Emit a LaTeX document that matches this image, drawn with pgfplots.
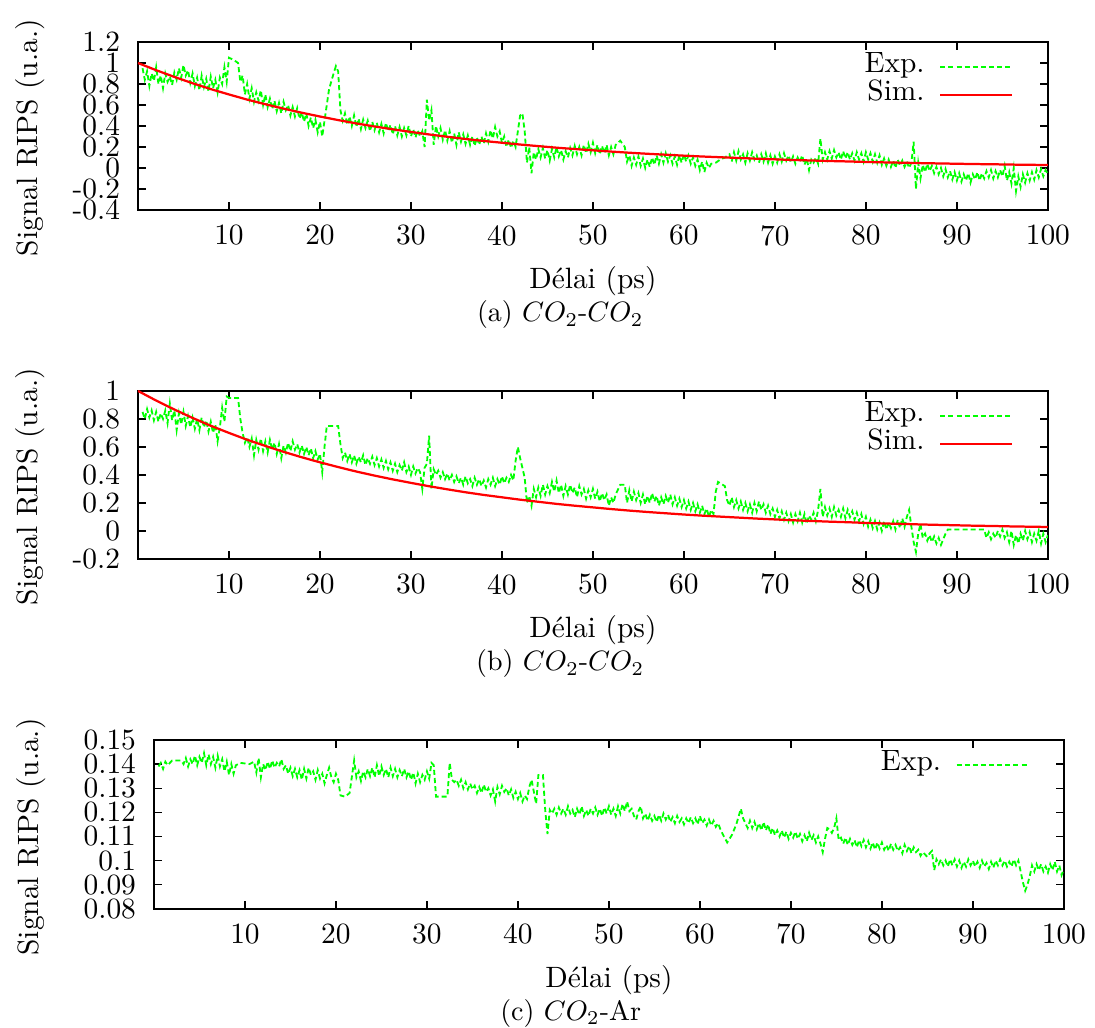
\documentclass[border=0pt]{standalone}
\usepackage{fontspec}
\usepackage{pgfplots}
\pgfplotsset{compat=1.18}
\definecolor{gexp}{RGB}{0,255,0}
\definecolor{rsim}{RGB}{255,0,0}

\pgfplotstableread{
x y
0.50 0.95
0.75 0.84
1.00 0.92
1.25 0.78
1.50 0.90
1.75 0.83
2.00 0.96
2.25 0.80
2.50 0.88
2.75 0.76
3.00 0.90
3.25 0.82
3.50 0.87
3.75 0.79
4.00 0.91
4.25 0.84
4.50 0.95
4.75 0.86
5.00 0.98
5.25 0.88
5.50 0.93
5.75 0.81
6.00 0.90
6.25 0.78
6.50 0.86
6.75 0.74
7.00 0.88
7.25 0.77
7.50 0.85
7.75 0.73
8.00 0.87
8.25 0.76
8.50 0.84
8.75 0.72
9.00 0.86
9.25 0.80
9.50 0.96
9.75 0.82
10.00 1.05
10.50 1.03
11.00 1.00
11.25 0.82
11.50 0.88
11.75 0.70
12.00 0.80
12.25 0.66
12.50 0.76
12.75 0.63
13.00 0.72
13.25 0.64
13.50 0.74
13.75 0.60
14.00 0.70
14.25 0.58
14.50 0.66
14.75 0.56
15.00 0.64
15.25 0.54
15.50 0.62
15.75 0.52
16.00 0.63
16.25 0.55
16.50 0.60
16.75 0.50
17.00 0.58
17.25 0.49
17.50 0.57
17.75 0.47
18.00 0.53
18.25 0.44
18.50 0.52
18.75 0.40
19.00 0.48
19.25 0.38
19.50 0.46
19.75 0.34
20.00 0.44
20.25 0.30
20.50 0.45
21.00 0.75
21.50 0.90
21.75 0.97
22.00 0.92
22.25 0.55
22.50 0.45
22.75 0.52
23.00 0.41
23.25 0.49
23.50 0.40
23.75 0.50
24.00 0.39
24.25 0.47
24.50 0.37
24.75 0.46
25.00 0.38
25.25 0.45
25.50 0.35
25.75 0.44
26.00 0.36
26.25 0.43
26.50 0.34
26.75 0.42
27.00 0.33
27.25 0.43
27.50 0.35
27.75 0.41
28.00 0.32
28.25 0.40
28.50 0.31
28.75 0.39
29.00 0.30
29.25 0.38
29.50 0.31
29.75 0.40
30.00 0.30
30.25 0.37
30.50 0.29
30.75 0.36
31.00 0.30
31.25 0.35
31.50 0.20
31.75 0.65
32.00 0.45
32.25 0.55
32.50 0.22
32.75 0.40
33.00 0.30
33.25 0.38
33.50 0.27
33.75 0.36
34.00 0.26
34.25 0.35
34.50 0.24
34.75 0.33
35.00 0.22
35.25 0.34
35.50 0.25
35.75 0.32
36.00 0.23
36.25 0.31
36.50 0.22
36.75 0.30
37.00 0.21
37.25 0.29
37.50 0.22
37.75 0.30
38.00 0.23
38.25 0.33
38.50 0.25
38.75 0.36
39.00 0.28
39.25 0.39
39.50 0.30
39.75 0.35
40.00 0.24
40.25 0.30
40.50 0.20
40.75 0.27
41.00 0.19
41.25 0.26
41.50 0.20
41.75 0.35
42.00 0.50
42.25 0.52
42.50 0.35
42.75 0.05
43.00 0.20
43.25 -0.05
43.50 0.15
43.75 0.08
44.00 0.18
44.25 0.10
44.50 0.19
44.75 0.09
45.00 0.17
45.25 0.07
45.50 0.18
45.75 0.10
46.00 0.20
46.25 0.11
46.50 0.17
46.75 0.08
47.00 0.16
47.25 0.10
47.50 0.19
47.75 0.12
48.00 0.21
48.25 0.13
48.50 0.20
48.75 0.12
49.00 0.22
49.25 0.14
49.50 0.23
49.75 0.15
50.00 0.24
50.25 0.14
50.50 0.22
50.75 0.13
51.00 0.21
51.25 0.14
51.50 0.22
51.75 0.12
52.00 0.20
52.25 0.13
52.50 0.22
53.00 0.26
53.50 0.20
53.75 0.06
54.00 0.12
54.25 0.02
54.50 0.10
54.75 0.03
55.00 0.11
55.25 0.02
55.50 0.09
55.75 0.00
56.00 0.08
56.25 0.01
56.50 0.10
56.75 0.03
57.00 0.12
57.25 0.04
57.50 0.13
57.75 0.05
58.00 0.14
58.25 0.06
58.50 0.12
58.75 0.04
59.00 0.11
59.25 0.03
59.50 0.12
59.75 0.05
60.00 0.13
60.25 0.06
60.50 0.12
60.75 0.04
61.00 0.10
61.25 0.02
61.50 0.08
61.75 -0.02
62.00 0.06
62.25 -0.04
62.50 0.05
62.75 0.00
63.00 0.04
63.50 0.05
64.00 0.08
64.50 0.10
65.00 0.13
65.25 0.06
65.50 0.15
65.75 0.07
66.00 0.16
66.25 0.08
66.50 0.13
66.75 0.05
67.00 0.14
67.25 0.07
67.50 0.15
67.75 0.08
68.00 0.12
68.25 0.05
68.50 0.13
68.75 0.06
69.00 0.14
69.25 0.05
69.50 0.12
69.75 0.04
70.00 0.11
70.25 0.05
70.50 0.13
70.75 0.06
71.00 0.14
71.25 0.07
71.50 0.12
71.75 0.05
72.00 0.11
72.25 0.04
72.50 0.10
72.75 0.06
73.00 0.12
73.25 0.03
73.50 0.09
73.75 -0.02
74.00 0.08
74.25 0.05
74.50 0.10
74.75 0.04
75.00 0.28
75.25 0.08
75.50 0.15
75.75 0.08
76.00 0.16
76.25 0.09
76.50 0.17
76.75 0.10
77.00 0.15
77.25 0.08
77.50 0.16
77.75 0.09
78.00 0.15
78.25 0.08
78.50 0.14
78.75 0.07
79.00 0.15
79.25 0.08
79.50 0.14
79.75 0.06
80.00 0.15
80.25 0.08
80.50 0.14
80.75 0.06
81.00 0.13
81.25 0.05
81.50 0.12
81.75 0.03
82.00 0.09
82.25 0.02
82.50 0.08
82.75 0.01
83.00 0.07
83.25 0.00
83.50 0.08
83.75 0.02
84.00 0.07
84.25 0.01
84.50 0.06
84.75 0.00
85.00 0.05
85.25 0.25
85.50 -0.20
85.75 0.05
86.00 -0.10
86.25 0.03
86.50 -0.04
86.75 0.04
87.00 -0.03
87.25 0.02
87.50 -0.05
87.75 0.01
88.00 -0.06
88.25 0.00
88.50 -0.08
88.75 -0.01
89.00 -0.09
89.25 -0.03
89.50 -0.11
89.75 -0.04
90.00 -0.12
90.25 -0.05
90.50 -0.13
90.75 -0.06
91.00 -0.12
91.25 -0.05
91.50 -0.14
91.75 -0.06
92.00 -0.11
92.25 -0.04
92.50 -0.12
92.75 -0.05
93.00 -0.10
93.25 -0.03
93.50 -0.09
93.75 -0.02
94.00 -0.10
94.25 -0.03
94.50 -0.09
94.75 -0.02
95.00 -0.08
95.25 0.02
95.50 -0.12
95.75 -0.04
96.00 -0.15
96.25 0.00
96.50 -0.22
96.75 -0.08
97.00 -0.18
97.25 -0.06
97.50 -0.14
97.75 -0.05
98.00 -0.12
98.25 -0.04
98.50 -0.11
98.75 -0.02
99.00 -0.09
99.25 -0.01
99.50 -0.08
99.75 -0.02
100.00 -0.06
}\expA

\pgfplotstableread{
x y
0.50 0.85
0.75 0.80
1.00 0.87
1.25 0.81
1.50 0.86
1.75 0.79
2.00 0.85
2.25 0.78
2.50 0.84
2.75 0.80
3.00 0.86
3.25 0.77
3.50 0.91
3.75 0.79
4.00 0.86
4.25 0.72
4.50 0.84
4.75 0.76
5.00 0.85
5.25 0.75
5.50 0.82
5.75 0.74
6.00 0.81
6.25 0.73
6.50 0.80
6.75 0.72
7.00 0.81
7.25 0.74
7.50 0.79
7.75 0.71
8.00 0.78
8.25 0.70
8.50 0.76
8.75 0.64
9.00 0.74
9.25 0.88
9.50 0.78
9.75 0.96
10.00 0.95
11.00 0.95
11.25 0.80
11.50 0.70
11.75 0.63
12.00 0.67
12.25 0.60
12.50 0.66
12.75 0.54
13.00 0.65
13.25 0.58
13.50 0.66
13.75 0.57
14.00 0.64
14.25 0.56
14.50 0.65
14.75 0.58
15.00 0.63
15.25 0.55
15.50 0.62
15.75 0.52
16.00 0.61
16.25 0.56
16.50 0.63
16.75 0.57
17.00 0.64
17.25 0.58
17.50 0.62
17.75 0.56
18.00 0.61
18.25 0.55
18.50 0.60
18.75 0.54
19.00 0.59
19.25 0.52
19.50 0.57
19.75 0.51
20.00 0.55
20.25 0.42
20.50 0.60
20.75 0.75
21.00 0.75
22.00 0.75
22.25 0.62
22.50 0.52
22.75 0.56
23.00 0.50
23.25 0.55
23.50 0.49
23.75 0.54
24.00 0.48
24.25 0.53
24.50 0.49
24.75 0.54
25.00 0.47
25.25 0.52
25.50 0.48
25.75 0.53
26.00 0.47
26.25 0.52
26.50 0.46
26.75 0.51
27.00 0.45
27.25 0.50
27.50 0.44
27.75 0.49
28.00 0.43
28.25 0.48
28.50 0.42
28.75 0.47
29.00 0.43
29.25 0.49
29.50 0.42
29.75 0.46
30.00 0.40
30.25 0.46
30.50 0.41
30.75 0.45
31.00 0.42
31.25 0.30
31.50 0.45
31.75 0.48
32.00 0.68
32.25 0.30
32.50 0.44
32.75 0.40
33.00 0.43
33.25 0.38
33.50 0.42
33.75 0.37
34.00 0.41
34.25 0.36
34.50 0.40
34.75 0.35
35.00 0.39
35.25 0.34
35.50 0.38
35.75 0.33
36.00 0.39
36.25 0.34
36.50 0.37
36.75 0.32
37.00 0.38
37.25 0.33
37.50 0.37
37.75 0.32
38.00 0.36
38.25 0.31
38.50 0.37
38.75 0.33
39.00 0.38
39.25 0.32
39.50 0.37
39.75 0.33
40.00 0.39
40.25 0.34
40.50 0.38
40.75 0.35
41.00 0.40
41.25 0.36
41.50 0.50
41.75 0.60
42.00 0.52
42.25 0.45
42.50 0.38
42.75 0.20
43.00 0.25
43.25 0.18
43.50 0.30
43.75 0.24
44.00 0.31
44.25 0.25
44.50 0.33
44.75 0.26
45.00 0.32
45.25 0.27
45.50 0.35
45.75 0.28
46.00 0.36
46.25 0.27
46.50 0.33
46.75 0.25
47.00 0.32
47.25 0.26
47.50 0.33
47.75 0.27
48.00 0.31
48.25 0.24
48.50 0.32
48.75 0.26
49.00 0.30
49.25 0.23
49.50 0.29
49.75 0.24
50.00 0.30
50.25 0.23
50.50 0.28
50.75 0.21
51.00 0.27
51.25 0.22
51.50 0.26
51.75 0.18
52.00 0.24
52.25 0.20
52.50 0.26
53.00 0.33
53.50 0.33
53.75 0.20
54.00 0.29
54.25 0.21
54.50 0.28
54.75 0.22
55.00 0.27
55.25 0.20
55.50 0.26
55.75 0.19
56.00 0.25
56.25 0.20
56.50 0.27
56.75 0.21
57.00 0.25
57.25 0.18
57.50 0.24
57.75 0.19
58.00 0.25
58.25 0.20
58.50 0.26
58.75 0.19
59.00 0.24
59.25 0.18
59.50 0.23
59.75 0.17
60.00 0.22
60.25 0.16
60.50 0.21
60.75 0.15
61.00 0.20
61.25 0.14
61.50 0.19
61.75 0.13
62.00 0.18
62.25 0.12
62.50 0.16
62.75 0.10
63.00 0.15
63.25 0.12
63.50 0.28
63.75 0.35
64.00 0.34
64.50 0.32
64.75 0.22
65.00 0.18
65.25 0.24
65.50 0.17
65.75 0.22
66.00 0.16
66.25 0.21
66.50 0.15
66.75 0.20
67.00 0.14
67.25 0.19
67.50 0.13
67.75 0.20
68.00 0.14
68.25 0.21
68.50 0.15
68.75 0.19
69.00 0.13
69.25 0.18
69.50 0.12
69.75 0.16
70.00 0.10
70.25 0.15
70.50 0.09
70.75 0.14
71.00 0.08
71.25 0.13
71.50 0.07
71.75 0.12
72.00 0.06
72.25 0.12
72.50 0.07
72.75 0.13
73.00 0.06
73.25 0.12
73.50 0.05
73.75 0.11
74.00 0.08
74.25 0.13
74.50 0.07
74.75 0.15
75.00 0.30
75.25 0.10
75.50 0.17
75.75 0.11
76.00 0.16
76.25 0.10
76.50 0.17
76.75 0.11
77.00 0.15
77.25 0.10
77.50 0.16
77.75 0.09
78.00 0.15
78.25 0.10
78.50 0.14
78.75 0.08
79.00 0.13
79.25 0.07
79.50 0.12
79.75 0.05
80.00 0.10
80.25 0.03
80.50 0.08
80.75 0.02
81.00 0.07
81.25 0.01
81.50 0.06
81.75 0.00
82.00 0.07
82.25 0.01
82.50 0.06
82.75 0.02
83.00 0.07
83.25 0.01
83.50 0.08
83.75 0.02
84.00 0.09
84.25 0.03
84.50 0.10
84.75 0.15
85.00 0.03
85.25 -0.08
85.50 -0.15
85.75 -0.02
86.00 0.05
86.25 -0.05
86.50 -0.02
86.75 -0.07
87.00 -0.03
87.25 -0.08
87.50 -0.04
87.75 -0.09
88.00 -0.05
88.25 -0.10
88.50 -0.06
88.75 -0.02
89.00 0.01
93.00 0.01
93.25 -0.05
93.50 -0.01
93.75 -0.06
94.00 -0.02
94.25 -0.05
94.50 0.00
94.75 -0.04
95.00 0.01
95.25 -0.05
95.50 -0.01
95.75 -0.08
96.00 0.00
96.25 -0.10
96.50 -0.03
96.75 -0.09
97.00 -0.02
97.25 -0.07
97.50 0.00
97.75 -0.06
98.00 -0.01
98.25 -0.08
98.50 -0.02
98.75 -0.07
99.00 0.00
99.25 -0.09
99.50 -0.02
99.75 -0.08
100.00 -0.03
}\expB

\pgfplotstableread{
x y
0.50 0.139
0.75 0.1405
1.00 0.138
1.25 0.141
1.50 0.1395
2.00 0.1415
3.00 0.1415
3.25 0.140
3.50 0.1425
3.75 0.139
4.00 0.142
4.25 0.140
4.50 0.1435
4.75 0.1395
5.00 0.143
5.25 0.1405
5.50 0.1445
5.75 0.1395
6.00 0.144
6.25 0.140
6.50 0.143
6.75 0.1385
7.00 0.1435
7.25 0.139
7.50 0.142
7.75 0.137
8.00 0.141
8.25 0.1355
8.50 0.140
8.75 0.136
9.00 0.1395
9.50 0.1405
10.50 0.140
11.00 0.141
11.25 0.1365
11.50 0.1425
11.75 0.1345
12.00 0.140
12.25 0.1375
12.50 0.141
12.75 0.138
13.00 0.1415
13.25 0.1385
13.50 0.1405
13.75 0.139
14.00 0.142
14.25 0.138
14.50 0.1395
14.75 0.136
15.00 0.1385
15.25 0.135
15.50 0.138
15.75 0.1345
16.00 0.1375
16.25 0.1335
16.50 0.138
16.75 0.134
17.00 0.1385
17.25 0.1355
17.50 0.137
17.75 0.1335
18.00 0.1375
18.25 0.134
18.50 0.136
18.75 0.132
19.00 0.1355
19.25 0.1385
19.50 0.1345
19.75 0.1325
20.00 0.136
20.25 0.1335
20.50 0.127
21.00 0.1265
21.50 0.128
22.00 0.1415
22.25 0.1345
22.50 0.137
22.75 0.133
23.00 0.137
23.25 0.1345
23.50 0.138
23.75 0.135
24.00 0.1385
24.25 0.1345
24.50 0.1395
24.75 0.135
25.00 0.139
25.25 0.1355
25.50 0.138
25.75 0.1345
26.00 0.1385
26.25 0.135
26.50 0.138
26.75 0.1345
27.00 0.1375
27.25 0.135
27.50 0.138
27.75 0.1345
28.00 0.137
28.25 0.1335
28.50 0.1365
28.75 0.132
29.00 0.136
29.25 0.1325
29.50 0.1355
29.75 0.1335
30.00 0.137
30.25 0.134
30.50 0.1405
30.75 0.1395
31.00 0.1265
32.25 0.1265
32.50 0.1405
32.75 0.1335
33.00 0.1325
33.25 0.1335
33.50 0.131
33.75 0.1335
34.00 0.130
34.25 0.1325
34.50 0.1295
34.75 0.132
35.00 0.1295
35.25 0.131
35.50 0.128
35.75 0.1305
36.00 0.128
36.25 0.1315
36.50 0.1285
36.75 0.130
37.00 0.127
37.25 0.1295
37.50 0.1245
37.75 0.1305
38.00 0.1275
38.25 0.131
38.50 0.1285
38.75 0.130
39.00 0.127
39.25 0.1295
39.50 0.126
39.75 0.1285
40.00 0.1255
40.25 0.128
40.50 0.1245
40.75 0.127
41.00 0.1255
41.25 0.1305
41.50 0.1335
41.75 0.1285
42.00 0.1235
42.25 0.1355
42.75 0.1355
43.00 0.121
43.25 0.111
43.50 0.121
43.75 0.1195
44.00 0.1215
44.25 0.119
44.50 0.122
44.75 0.1195
45.00 0.1215
45.25 0.119
45.50 0.1225
45.75 0.1195
46.00 0.121
46.25 0.118
46.50 0.1215
46.75 0.119
47.00 0.1225
47.25 0.1185
47.50 0.121
47.75 0.1185
48.00 0.1215
48.25 0.1195
48.50 0.122
48.75 0.119
49.00 0.1215
49.25 0.1185
49.50 0.122
49.75 0.1195
50.00 0.1225
50.25 0.119
50.50 0.1215
50.75 0.1185
51.00 0.1225
51.25 0.1195
51.50 0.1235
51.75 0.1205
52.00 0.1245
52.25 0.1205
52.50 0.1215
52.75 0.1185
53.00 0.117
53.25 0.1205
53.50 0.1225
53.75 0.1175
54.00 0.1195
54.25 0.1165
54.50 0.119
54.75 0.1165
55.00 0.1185
55.25 0.116
55.50 0.119
55.75 0.1165
56.00 0.1195
56.25 0.117
56.50 0.119
56.75 0.116
57.00 0.118
57.25 0.1155
57.50 0.1185
57.75 0.116
58.00 0.1175
58.25 0.115
58.50 0.1175
58.75 0.1155
59.00 0.118
59.25 0.1155
59.50 0.1175
59.75 0.115
60.00 0.1185
60.25 0.1155
60.50 0.117
60.75 0.1145
61.00 0.117
61.25 0.1145
61.50 0.1165
61.75 0.114
62.00 0.1155
62.25 0.113
62.50 0.111
63.00 0.1075
63.50 0.1105
64.00 0.115
64.50 0.1215
64.75 0.1175
65.00 0.1155
65.25 0.1135
65.50 0.1165
65.75 0.1135
66.00 0.116
66.25 0.113
66.50 0.1155
66.75 0.1125
67.00 0.116
67.25 0.1125
67.50 0.115
67.75 0.111
68.00 0.1135
68.25 0.1105
68.50 0.1125
68.75 0.110
69.00 0.1125
69.25 0.1095
69.50 0.112
69.75 0.109
70.00 0.1115
70.25 0.1095
70.50 0.112
70.75 0.109
71.00 0.111
71.25 0.108
71.50 0.1105
71.75 0.108
72.00 0.1115
72.25 0.1085
72.50 0.1105
72.75 0.1075
73.00 0.110
73.25 0.107
73.50 0.1035
73.75 0.109
74.00 0.1135
74.25 0.113
74.50 0.1115
74.75 0.1135
75.00 0.1175
75.25 0.1085
75.50 0.1095
75.75 0.107
76.00 0.1095
76.25 0.1065
76.50 0.109
76.75 0.1065
77.00 0.1085
77.25 0.1055
77.50 0.1085
77.75 0.106
78.00 0.1085
78.25 0.1055
78.50 0.108
78.75 0.105
79.00 0.1075
79.25 0.1045
79.50 0.1075
79.75 0.105
80.00 0.1075
80.25 0.1045
80.50 0.1065
80.75 0.104
81.00 0.107
81.25 0.1045
81.50 0.1065
81.75 0.104
82.00 0.1055
82.25 0.103
82.50 0.1065
82.75 0.104
83.00 0.106
83.25 0.103
83.50 0.1055
83.75 0.1035
84.00 0.1045
84.25 0.102
84.50 0.1035
85.00 0.1015
85.25 0.103
85.50 0.104
85.75 0.096
86.00 0.1005
86.25 0.0985
86.50 0.1005
86.75 0.098
87.00 0.100
87.25 0.0975
87.50 0.1005
87.75 0.098
88.00 0.1005
88.25 0.0975
88.50 0.100
88.75 0.097
89.00 0.0995
89.25 0.0975
89.50 0.1005
89.75 0.098
90.00 0.100
90.25 0.0975
90.50 0.0995
90.75 0.097
91.00 0.100
91.25 0.0975
91.50 0.099
91.75 0.0965
92.00 0.0995
92.25 0.097
92.50 0.100
92.75 0.098
93.00 0.1005
93.25 0.098
93.50 0.100
93.75 0.0975
94.00 0.0995
94.25 0.0975
94.50 0.1005
94.75 0.098
95.00 0.100
95.25 0.0955
95.50 0.091
95.75 0.0875
96.00 0.090
96.25 0.0935
96.50 0.098
96.75 0.0955
97.00 0.0985
97.25 0.096
97.50 0.0985
97.75 0.0955
98.00 0.0975
98.25 0.095
98.50 0.0985
98.75 0.096
99.00 0.0995
99.25 0.0955
99.50 0.098
99.75 0.094
100.00 0.0965
}\expC

\pgfplotstableread{
x y
0 1.000
2 0.931
4 0.867
6 0.807
8 0.751
10 0.700
12 0.651
14 0.607
16 0.565
18 0.526
20 0.490
22 0.456
24 0.424
26 0.395
28 0.368
30 0.343
32 0.319
34 0.297
36 0.276
38 0.257
40 0.240
42 0.223
44 0.208
46 0.193
48 0.180
50 0.168
52 0.156
54 0.145
56 0.135
58 0.126
60 0.117
62 0.109
64 0.102
66 0.095
68 0.088
70 0.082
72 0.076
74 0.071
76 0.066
78 0.062
80 0.057
82 0.053
84 0.050
86 0.046
88 0.043
90 0.040
92 0.037
94 0.035
96 0.032
98 0.030
100 0.028
}\sim

\pgfplotsset{
  rips/.style={
    scale only axis, width=324.9pt,
    xmin=0, xmax=100, xtick={10,20,30,40,50,60,70,80,90,100},
    xticklabels={10,20,30,40,50,60,70,80,90,100},
    tick align=inside, major tick length=2.8pt,
    axis line style={line width=0.8pt}, every tick/.style={black, line width=0.5pt},
    xticklabel style={yshift=-1.9pt},
    yticklabel style={xshift=-2.9pt},
    xlabel={D\'elai (ps)}, ylabel={Signal RIPS (u.a.)},
    legend cell align=right,
    legend style={draw=none, fill=none, legend plot pos=right,
      at={(rel axis cs:1,1)}, anchor=north east, xshift=-12.1pt, yshift=-3.7pt,
      row sep=0pt, column sep=5.2pt, inner sep=0pt,
      nodes={inner sep=0pt, text height=7pt, text depth=3pt}},
    legend image code/.code={\draw[##1] (0pt,0pt) -- (25.7pt,0pt);},
    clip mode=individual,
  },
  expline/.style={gexp, line width=0.65pt, dash pattern=on 1.8pt off 1.1pt},
  simline/.style={rsim, line width=0.8pt},
}

\begin{document}
\begin{tikzpicture}[font=\fontsize{10.5}{12.6}\selectfont]
\useasboundingbox (0,0) rectangle (391pt,367pt);

% (a)
\begin{axis}[rips, at={(49.27pt,292.03pt)}, anchor=south west, height=59.98pt,
  ymin=-0.4, ymax=1.2, ytick={-0.4,-0.2,0,0.2,0.4,0.6,0.8,1,1.2},
  yticklabels={-0.4,-0.2,0,0.2,0.4,0.6,0.8,1,1.2},
  xlabel style={at={(axis description cs:0.5,-0.423)}, anchor=center},
  ylabel style={at={(axis description cs:-0.118,0.43)}, anchor=center},
]
\addplot[expline] table[x=x,y=y] {\expA};
\addlegendentry{Exp.}
\addplot[simline] table[x=x,y=y] {\sim};
\addlegendentry{Sim.}
\node[font=\fontsize{10}{12}\selectfont] at (axis description cs:0.464,-0.625) {(a) $CO_2$-$CO_2$};
\end{axis}

% (b)
\begin{axis}[rips, at={(49.27pt,167.43pt)}, anchor=south west, height=59.98pt,
  ymin=-0.2, ymax=1, ytick={-0.2,0,0.2,0.4,0.6,0.8,1},
  yticklabels={-0.2,0,0.2,0.4,0.6,0.8,1},
  xlabel style={at={(axis description cs:0.5,-0.423)}, anchor=center},
  ylabel style={at={(axis description cs:-0.118,0.43)}, anchor=center},
]
\addplot[expline] table[x=x,y=y] {\expB};
\addlegendentry{Exp.}
\addplot[simline] table[x=x,y=y] {\sim};
\addlegendentry{Sim.}
\node[font=\fontsize{10}{12}\selectfont] at (axis description cs:0.464,-0.625) {(b) $CO_2$-$CO_2$};
\end{axis}

% (c)
\begin{axis}[rips, at={(54.98pt,42.48pt)}, anchor=south west, height=60.3pt,
  ymin=0.08, ymax=0.15, ytick={0.08,0.09,0.1,0.11,0.12,0.13,0.14,0.15},
  yticklabels={0.08,0.09,0.1,0.11,0.12,0.13,0.14,0.15},
  xlabel style={at={(axis description cs:0.5,-0.42)}, anchor=center},
  ylabel style={at={(axis description cs:-0.1346,0.426)}, anchor=center},
]
\addplot[expline] table[x=x,y=y] {\expC};
\addlegendentry{Exp.}
\node[font=\fontsize{10}{12}\selectfont] at (axis description cs:0.458,-0.62) {(c) $CO_2$-Ar};
\end{axis}
\end{tikzpicture}
\end{document}
